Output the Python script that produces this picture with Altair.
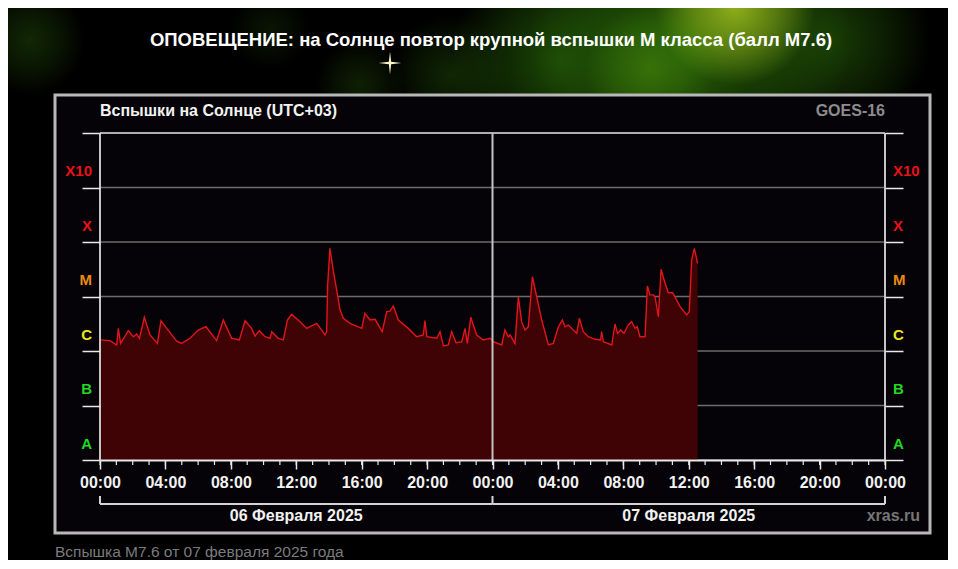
import altair as alt
import pandas as pd

# ---------------- data ----------------
title_text = ["ОПОВЕЩЕНИЕ: на Солнце повтор крупной вспышки М класса (балл M7.6)"]
panel_title = ["Вспышки на Солнце (UTC+03)"]
source_label = ["GOES-16"]
site_label = ["xras.ru"]
caption_text = ["Вспышка M7.6 от 07 февраля 2025 года"]

# hours since 06 Feb 2025 00:00 (UTC+03)
hours = [0.00, 0.61, 1.02, 1.12, 1.26, 1.73, 2.04, 2.24, 2.41, 2.71, 3.06, 3.51, 3.73, 4.08,
         4.69, 4.99, 5.50, 6.01, 6.48, 7.13, 7.54, 8.05, 8.52, 8.87, 9.27, 9.48, 9.74, 10.09,
         10.40, 10.50, 10.90, 11.21, 11.46, 11.72, 12.23, 12.64, 12.94, 13.25, 13.76, 13.86,
         13.92, 14.06, 14.26, 14.47, 14.68, 14.88, 15.29, 16.00, 16.20, 16.51, 16.82, 17.26,
         17.53, 17.73, 17.94, 18.24, 18.85, 19.36, 19.77, 19.87, 19.98, 20.59, 20.79, 21.00,
         21.30, 21.50, 21.77, 22.12, 22.32, 22.46, 22.67, 23.03, 23.44, 23.85, 24.05, 24.56,
         24.76, 24.97, 25.07, 25.38, 25.58, 25.78, 25.99, 26.19, 26.44, 26.70, 27.01, 27.42,
         27.72, 28.03, 28.27, 28.43, 28.64, 28.94, 29.15, 29.31, 29.55, 29.86, 30.27, 30.61,
         30.67, 30.78, 31.29, 31.49, 31.65, 31.84, 32.04, 32.30, 32.51, 32.71, 32.85, 33.02,
         33.33, 33.47, 33.63, 33.83, 33.94, 34.14, 34.31, 34.55, 34.75, 35.02, 35.47, 35.87,
         36.03, 36.18, 36.34, 36.54]
# X-ray flux, W/m^2
flux = [1.6e-6, 1.55e-6, 1.29e-6, 2.6e-6, 1.38e-6, 2.36e-6, 1.83e-6, 2.05e-6, 1.71e-6, 4.15e-6,
        1.97e-6, 1.38e-6, 3.6e-6, 2.6e-6, 1.52e-6, 1.38e-6, 1.71e-6, 2.43e-6, 2.79e-6, 1.55e-6,
        3.7e-6, 1.71e-6, 1.59e-6, 3.6e-6, 2.6e-6, 1.88e-6, 2.36e-6, 1.83e-6, 1.71e-6, 2.26e-6,
        1.71e-6, 1.6e-6, 3.7e-6, 4.71e-6, 3.45e-6, 2.6e-6, 2.88e-6, 3.22e-6, 1.97e-6, 2.26e-6,
        1.63e-5, 7.66e-5, 3.06e-5, 1.32e-5, 5.65e-6, 3.98e-6, 3.22e-6, 2.6e-6, 4.91e-6, 3.7e-6,
        3.81e-6, 2.26e-6, 5.27e-6, 5.4e-6, 6.7e-6, 3.7e-6, 2.6e-6, 1.83e-6, 1.97e-6, 3.6e-6,
        1.83e-6, 1.71e-6, 2.26e-6, 1.24e-6, 1.29e-6, 2.26e-6, 1.42e-6, 1.47e-6, 2.6e-6, 1.38e-6,
        4.15e-6, 1.97e-6, 1.59e-6, 1.71e-6, 1.48e-6, 1.29e-6, 2.43e-6, 1.83e-6, 1.97e-6, 1.38e-6,
        9.9e-6, 3.45e-6, 2.43e-6, 2.79e-6, 2.31e-5, 9.9e-6, 3.7e-6, 1.29e-6, 1.38e-6, 2.79e-6,
        3.7e-6, 2.79e-6, 3.0e-6, 2.43e-6, 2.11e-6, 3.98e-6, 2.26e-6, 1.83e-6, 1.64e-6, 1.59e-6,
        2.26e-6, 1.48e-6, 1.29e-6, 3.13e-6, 2.11e-6, 2.43e-6, 2.11e-6, 3.0e-6, 3.45e-6, 2.61e-6,
        2.79e-6, 1.83e-6, 1.83e-6, 1.56e-5, 1.07e-5, 1.07e-5, 9.9e-6, 4.26e-6, 3.15e-5, 1.75e-5,
        1.17e-5, 1.17e-5, 6.5e-6, 4.58e-6, 5.27e-6, 4.68e-5, 7.66e-5, 4.06e-5]

class_names = ["A", "B", "C", "M", "X", "X10"]
class_label_flux = [2e-8, 2e-7, 2e-6, 2e-5, 2e-4, 2e-3]
class_colors = ["#22d822", "#22d822", "#e8e81c", "#ea8a10", "#ea1218", "#ea1218"]
class_edges = [1e-8, 1e-7, 1e-6, 1e-5, 1e-4, 1e-3, 1e-2]

major_hours = [0, 4, 8, 12, 16, 20, 24, 28, 32, 36, 40, 44, 48]
minor_hours = list(range(0, 49))
day_bounds = [0, 24, 48]
day_start = [0, 24]
day_end = [24, 48]
day_labels = ["06 Февраля 2025", "07 Февраля 2025"]

# ---------------- layout ----------------
W, H = 785, 327
SANS = "Liberation Sans, Arial, sans-serif"

xscale = alt.Scale(domain=[0, 48], nice=False, zero=False)
yscale = alt.Scale(type="log", domain=[1e-8, 1e-2], nice=False)

flare_df = pd.DataFrame({"h": hours, "f": flux})
one = pd.DataFrame({"k": [0]})


def glow(cx, cy, r, rgb, alpha):
    # circular soft glow, page coordinates -> view coordinates
    cx, cy = cx - 100, cy - 133
    return alt.Chart(one).mark_rect(
        color=alt.RadialGradient(
            gradient="radial",
            stops=[alt.GradientStop(color=f"rgba({rgb},{alpha})", offset=0),
                   alt.GradientStop(color=f"rgba({rgb},{alpha * 0.5})", offset=0.55),
                   alt.GradientStop(color=f"rgba({rgb},0)", offset=1)],
            x1=0.5, y1=0.5, r1=0, x2=0.5, y2=0.5, r2=0.5)
    ).encode(x=alt.value(cx - r), x2=alt.value(cx + r),
             y=alt.value(cy - r), y2=alt.value(cy + r))


glows = [
    glow(690, 40, 160, "45,115,8", 0.85),
    glow(560, 60, 110, "40,105,8", 0.7),
    glow(830, 40, 100, "40,100,8", 0.6),
    glow(735, 5, 80, "165,195,30", 0.85),
    glow(650, 70, 65, "75,145,12", 0.55),
    glow(450, 75, 60, "35,85,8", 0.45),
    glow(30, 40, 55, "35,80,10", 0.5),
    glow(360, 85, 45, "35,80,8", 0.4),
    glow(270, 30, 40, "30,70,8", 0.3),
]

star = alt.Chart(one).mark_point(
    shape="M0,-1L0.1,-0.1L1,0L0.1,0.1L0,1L-0.1,0.1L-1,0L-0.1,-0.1Z",
    filled=True, size=520, color="#fff6c8", opacity=1
).encode(x=alt.value(290), y=alt.value(-70))

panel = alt.Chart(one).mark_rect(
    fill="#050307", stroke="#b8b8b8", strokeWidth=3
).encode(x=alt.value(-45), x2=alt.value(830), y=alt.value(-38), y2=alt.value(400))

grid = alt.Chart(pd.DataFrame({"e": class_edges})).mark_rule(strokeWidth=1.5).encode(
    y=alt.Y("e:Q", scale=yscale, axis=None),
    x=alt.value(0), x2=alt.value(W),
    color=alt.condition("datum.e >= 0.009", alt.value("#e8e8e8"), alt.value("#6c6c6c")),
)

left_axis = alt.Axis(orient="left", values=class_edges, labels=False, tickSize=18,
                     tickColor="#e8e8e8", tickWidth=1.5, domain=False, grid=False,
                     title=None, zindex=1)
right_axis = alt.Axis(orient="right", values=class_edges, labels=False, tickSize=18,
                      tickColor="#e8e8e8", tickWidth=1.5, domain=False, grid=False,
                      title=None, zindex=1)

x_axis = alt.Axis(
    values=major_hours, tickSize=9, tickColor="#e8e8e8", tickWidth=1.5,
    domain=True, domainColor="#e8e8e8", domainWidth=2, grid=False, title=None,
    labelExpr="(datum.value % 24 < 10 ? '0' : '') + (datum.value % 24) + ':00'",
    labelFont=SANS, labelFontWeight="bold", labelFontSize=16, labelColor="#f2f2f2",
    labelPadding=5, labelOverlap=False, labelFlush=False, labelBound=False, zindex=1,
)

area = alt.Chart(flare_df).mark_area(color="#3f0306", opacity=1).encode(
    x=alt.X("h:Q", scale=xscale, axis=x_axis),
    y=alt.Y("f:Q", scale=yscale, axis=left_axis),
    y2=alt.datum(1e-8),
)

line = alt.Chart(flare_df).mark_line(color="#e2141c", strokeWidth=1.4).encode(
    x=alt.X("h:Q", scale=xscale, axis=None),
    y=alt.Y("f:Q", scale=yscale, axis=right_axis),
)

vlines = alt.Chart(pd.DataFrame({"h": day_bounds})).mark_rule(
    color="#c4c4c4", strokeWidth=2
).encode(x=alt.X("h:Q", scale=xscale, axis=None), y=alt.value(0), y2=alt.value(H))

minor = alt.Chart(pd.DataFrame({"h": minor_hours})).mark_rule(
    color="#e8e8e8", strokeWidth=1.2
).encode(x=alt.X("h:Q", scale=xscale, axis=None), y=alt.value(H), y2=alt.value(H + 5))

cls_df = pd.DataFrame({"c": class_names, "lf": class_label_flux})
cls_color = alt.Color("c:N", scale=alt.Scale(domain=class_names, range=class_colors), legend=None)
cls_left = alt.Chart(cls_df).mark_text(
    align="right", baseline="middle", font=SANS, fontWeight="bold", fontSize=15
).encode(x=alt.value(-8), y=alt.Y("lf:Q", scale=yscale, axis=None), text="c:N", color=cls_color)
cls_right = alt.Chart(cls_df).mark_text(
    align="left", baseline="middle", font=SANS, fontWeight="bold", fontSize=15
).encode(x=alt.value(W + 8), y=alt.Y("lf:Q", scale=yscale, axis=None), text="c:N", color=cls_color)

days_df = pd.DataFrame({"s": day_start, "e": day_end, "lab": day_labels})
days_df["m"] = (days_df["s"] + days_df["e"]) / 2
bracket = alt.Chart(days_df).mark_rule(color="#d4d4d4", strokeWidth=2).encode(
    x=alt.X("s:Q", scale=xscale, axis=None), x2="e:Q", y=alt.value(371))
bracket_ticks = alt.Chart(pd.DataFrame({"h": day_bounds})).mark_rule(
    color="#d4d4d4", strokeWidth=2
).encode(x=alt.X("h:Q", scale=xscale, axis=None), y=alt.value(363), y2=alt.value(371))
day_text = alt.Chart(days_df).mark_text(
    align="center", baseline="middle", font=SANS, fontWeight="bold", fontSize=16, color="#f2f2f2"
).encode(x=alt.X("m:Q", scale=xscale, axis=None), y=alt.value(383), text="lab:N")


def label(txt, x, y, align, size, color, weight, font):
    return alt.Chart(pd.DataFrame({"t": txt})).mark_text(
        align=align, baseline="middle", fontSize=size, color=color, fontWeight=weight, font=font
    ).encode(x=alt.value(x), y=alt.value(y), text="t:N")


title = label(title_text, 391, -93, "center", 18.5, "#ffffff", "bold", SANS)
ptitle = label(panel_title, 0, -22, "left", 16, "#f2f2f2", "bold", SANS)
goes = label(source_label, W, -22, "right", 16, "#8c8c8c", "bold", SANS)
site = label(site_label, 820, 383, "right", 16, "#767676", "bold", SANS)
caption = label(caption_text, -45, 419, "left", 15.5, "#7c7c7c", "normal", SANS)

chart = alt.layer(
    *glows, star, panel, grid, area, line, vlines, minor, cls_left, cls_right,
    bracket, bracket_ticks, day_text, title, ptitle, goes, site, caption
).resolve_axis(x="independent", y="independent").properties(
    width=W, height=H,
    autosize=alt.AutoSizeParams(type="none"),
    padding={"left": 92, "top": 125, "right": 63, "bottom": 100},
    background="#000000",
).configure_view(strokeWidth=0)

chart.save("out.html", embed_options={"renderer": "svg", "actions": False})
